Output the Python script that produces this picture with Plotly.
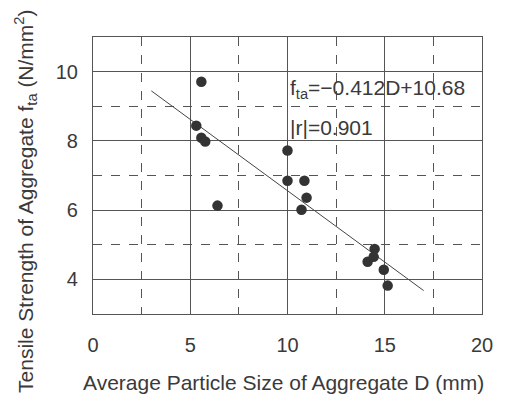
import plotly.graph_objects as go

# data
D = [5.57, 5.31, 5.57, 5.77, 6.40, 10.0, 10.0, 10.87, 10.98, 10.72, 14.48, 14.43, 14.12, 14.95, 15.15]
fta = [9.71, 8.44, 8.09, 7.98, 6.13, 7.72, 6.85, 6.85, 6.36, 6.01, 4.88, 4.65, 4.51, 4.28, 3.82]
slope, intercept = -0.412, 10.68
line_x = [3.0, 17.0]
line_y = [slope * x + intercept for x in line_x]

FONT = "Liberation Sans, Arial, Helvetica, sans-serif"
TXT = "#3a3a3a"
GRID = "#555555"

fig = go.Figure()
fig.add_trace(go.Scatter(x=line_x, y=line_y, mode="lines",
                         line=dict(color="#444444", width=1), showlegend=False))
fig.add_trace(go.Scatter(x=D, y=fta, mode="markers",
                         marker=dict(color="#333333", size=10.5), showlegend=False))

axis_common = dict(showline=True, linecolor=GRID, linewidth=1.2, mirror=True,
                   showgrid=True, gridcolor=GRID, gridwidth=1, zeroline=False,
                   ticks="", tickfont=dict(family=FONT, size=20, color=TXT))

fig.update_xaxes(range=[0, 20], dtick=5, tick0=0,
                 minor=dict(dtick=2.5, showgrid=True, gridcolor=GRID, griddash="dash", gridwidth=1),
                 ticklabelstandoff=13, **axis_common)
fig.update_yaxes(range=[3, 11], dtick=2, tick0=0,
                 minor=dict(dtick=1, showgrid=True, gridcolor=GRID, griddash="dash", gridwidth=1),
                 ticklabelstandoff=10, **axis_common)

fig.add_annotation(x=10.0, y=9.5, xref="x", yref="y", xanchor="left", yanchor="middle",
                   text="f<sub>ta</sub>=−0.412D+10.68", showarrow=False,
                   font=dict(family=FONT, size=21, color=TXT))
fig.add_annotation(x=10.0, y=8.38, xref="x", yref="y", xanchor="left", yanchor="middle",
                   text="|r|=0.901", showarrow=False,
                   font=dict(family=FONT, size=21, color=TXT))

# axis titles
fig.add_annotation(x=0.49, y=-0.246, xref="paper", yref="paper", xanchor="center", yanchor="middle",
                   text="Average Particle Size of Aggregate D (mm)", showarrow=False,
                   font=dict(family=FONT, size=21, color=TXT))
fig.add_annotation(x=-0.172, y=0.405, xref="paper", yref="paper", xanchor="center", yanchor="middle",
                   text="Tensile Strength of Aggregate f<sub>ta</sub> (N/mm<sup>2</sup>)", showarrow=False,
                   textangle=-90, font=dict(family=FONT, size=21, color=TXT))

fig.update_layout(width=498, height=392, margin=dict(l=85, r=24, t=29, b=86),
                  plot_bgcolor="white", paper_bgcolor="white")

fig.write_html("out.html")
